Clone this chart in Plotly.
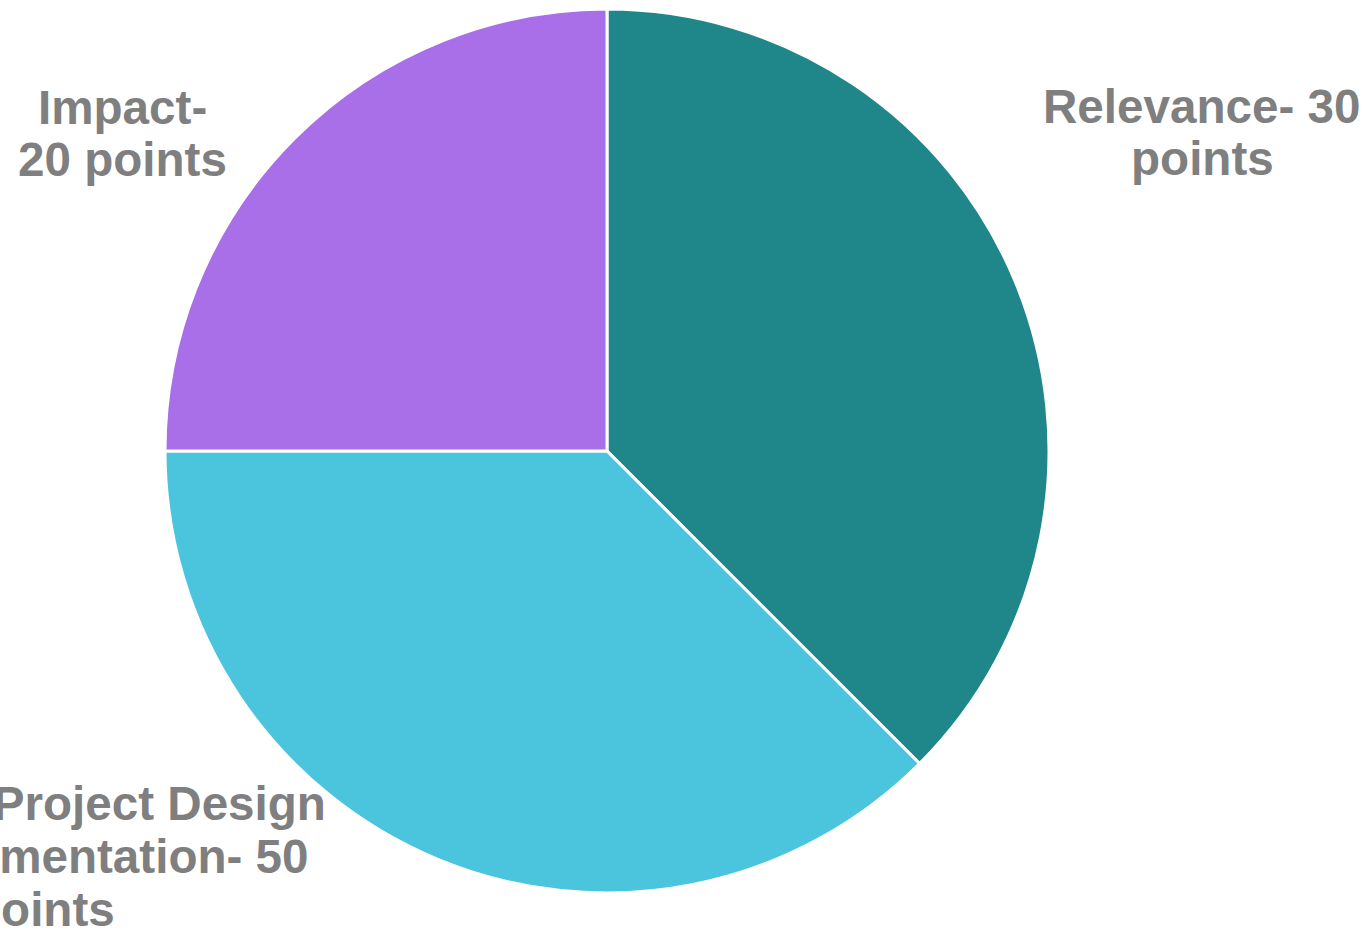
import plotly.graph_objects as go

categories = ["Relevance", "Quality of Project Design and Implementation", "Impact"]
slice_values = [30, 30, 20]
colors = ["#1F868A", "#4BC4DE", "#A86FE8"]
label_lines = [
    ["Relevance- 30", "points"],
    ["Quality of Project Design", "and Implementation- 50", "points"],
    ["Impact-", "20 points"],
]

W, H = 1367, 940
cx, cy, r = 607, 451, 442

fig = go.Figure(go.Pie(
    labels=categories,
    values=slice_values,
    sort=False,
    direction="clockwise",
    rotation=0,
    marker=dict(colors=colors, line=dict(color="white", width=3)),
    textinfo="none",
    hoverinfo="label+value",
    showlegend=False,
    domain=dict(x=[(cx - r) / W, (cx + r) / W], y=[1 - (cy + r) / H, 1 - (cy - r) / H]),
))

fs = 47.6
# (center x px, first baseline px, line step px) for each label
label_pos = [(1202, 123, 52), (43, 820, 53), (123, 124, 52)]
annotations = []
for lines, (x, b0, step) in zip(label_lines, label_pos):
    for i, t in enumerate(lines):
        base = b0 + i * step
        mid = base - 0.35 * fs
        annotations.append(dict(
            text=t, x=x / W, y=1 - mid / H, xref="paper", yref="paper",
            xanchor="center", yanchor="middle", showarrow=False,
            font=dict(family="Liberation Sans, Arial, sans-serif", size=fs, color="#7F7F7F", weight="bold"),
        ))

fig.update_layout(
    width=W, height=H,
    margin=dict(l=0, r=0, t=0, b=0),
    paper_bgcolor="white", plot_bgcolor="white",
    annotations=annotations,
)

fig.write_html("out.html")
